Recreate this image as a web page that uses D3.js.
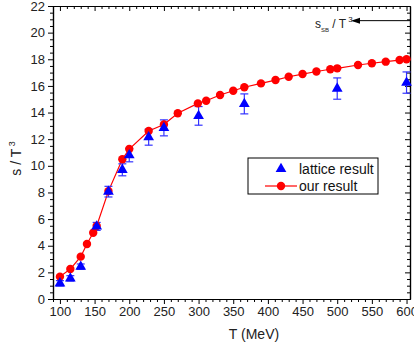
<!DOCTYPE html>
<meta charset="utf-8">
<style>
  body { margin: 0; background: #fff; }
  text { font-family: "Liberation Sans", Arial, sans-serif; }
</style>
<body>
<div id="chart"></div>
<script src="https://d3js.org/d3.v7.min.js"></script>
<script>

// our result (red line)
var ourT = [100, 115, 130, 139, 148, 153, 170, 190, 200, 228, 250, 270, 299, 311, 331, 350, 366, 390, 411, 430, 450, 470, 490, 500, 530, 550, 570, 590, 600];
var ourS = [1.68, 2.25, 3.18, 4.13, 4.98, 5.48, 8.1, 10.49, 11.26, 12.61, 13.1, 13.95, 14.69, 14.89, 15.32, 15.64, 15.9, 16.19, 16.44, 16.69, 16.89, 17.08, 17.25, 17.32, 17.57, 17.7, 17.82, 17.94, 18.0];

// lattice result (blue triangles with error bars)
var latT = [100, 115, 130, 153, 170, 190, 200, 228, 250, 300, 366, 500, 600];
var latS = [1.18, 1.55, 2.43, 5.45, 8.06, 9.7, 10.8, 12.15, 12.85, 13.75, 14.65, 15.8, 16.25];
var latErr = [0.2, 0.2, 0.2, 0.3, 0.4, 0.45, 0.5, 0.6, 0.6, 0.7, 0.75, 0.8, 0.8];

var xTicks = [100, 150, 200, 250, 300, 350, 400, 450, 500, 550, 600];
var yTicks = [0, 2, 4, 6, 8, 10, 12, 14, 16, 18, 20, 22];
var sbLevel = 20.9;

var margin = {top: 6, right: 4, bottom: 48, left: 53},
    width = 414 - margin.left - margin.right,
    height = 347 - margin.top - margin.bottom;

var svg = d3.select("#chart")
  .append("svg")
    .attr("width", 414)
    .attr("height", 347)
  .append("g")
    .attr("transform", "translate(" + margin.left + "," + margin.top + ")");

var x = d3.scaleLinear().domain([90, 605]).range([0, width]);
var y = d3.scaleLinear().domain([0, 22]).range([height, 0]);

var minorX = d3.range(90, 606, 10).filter(function(d) { return d % 50 != 0; });
var minorY = d3.range(0, 22.01, 0.5).filter(function(d) { return d % 2 != 0; });

function styleAxis(g) {
  g.selectAll("path").attr("stroke", "#000").attr("stroke-width", 1.2);
  g.selectAll("line").attr("stroke", "#000");
  g.selectAll("text").attr("font-size", 13).attr("fill", "#222");
}

// bottom axis
svg.append("g")
  .attr("transform", "translate(0," + height + ")")
  .call(d3.axisBottom(x).tickValues(minorX).tickSize(3).tickFormat("").tickSizeOuter(0))
  .call(styleAxis);
svg.append("g")
  .attr("transform", "translate(0," + height + ")")
  .call(d3.axisBottom(x).tickValues(xTicks).tickSize(5).tickPadding(3).tickSizeOuter(0))
  .call(styleAxis);

// top axis (ticks inward)
svg.append("g")
  .call(d3.axisTop(x).tickValues(minorX).tickSize(-3).tickFormat("").tickSizeOuter(0))
  .call(styleAxis);
svg.append("g")
  .call(d3.axisTop(x).tickValues(xTicks).tickSize(-5).tickFormat("").tickSizeOuter(0))
  .call(styleAxis);

// left axis
svg.append("g")
  .call(d3.axisLeft(y).tickValues(minorY).tickSize(3).tickFormat("").tickSizeOuter(0))
  .call(styleAxis);
svg.append("g")
  .call(d3.axisLeft(y).tickValues(yTicks).tickSize(5).tickPadding(3).tickSizeOuter(0))
  .call(styleAxis);

// right axis (ticks inward)
svg.append("g")
  .attr("transform", "translate(" + width + ",0)")
  .call(d3.axisRight(y).tickValues(minorY).tickSize(-3).tickFormat("").tickSizeOuter(0))
  .call(styleAxis);
svg.append("g")
  .attr("transform", "translate(" + width + ",0)")
  .call(d3.axisRight(y).tickValues(yTicks).tickSize(-5).tickFormat("").tickSizeOuter(0))
  .call(styleAxis);

// axis titles
svg.append("text")
  .attr("x", x(380))
  .attr("y", height + 40)
  .attr("text-anchor", "middle")
  .attr("font-size", 14)
  .attr("fill", "#222")
  .text("T (MeV)");

var yl = svg.append("text")
  .attr("transform", "translate(-32," + (height / 2 + 6) + ")rotate(-90)")
  .attr("text-anchor", "middle")
  .attr("font-size", 14)
  .attr("fill", "#222");
yl.append("tspan").text("s / T");
yl.append("tspan").attr("dy", -6).attr("font-size", 9).text(" 3");

// data
var our = ourT.map(function(t, i) { return {t: t, s: ourS[i]}; });
var lat = latT.map(function(t, i) { return {t: t, s: latS[i], e: latErr[i]}; });

// red line
svg.append("path")
  .datum(our)
  .attr("fill", "none")
  .attr("stroke", "#ff0000")
  .attr("stroke-width", 1.2)
  .attr("d", d3.line().x(function(d) { return x(d.t); }).y(function(d) { return y(d.s); }));

// error bars
var eb = svg.selectAll(".err").data(lat).enter().append("g").attr("class", "err")
  .attr("stroke", "#3333ff").attr("stroke-width", 1.2);
eb.append("line")
  .attr("x1", function(d) { return x(d.t); }).attr("x2", function(d) { return x(d.t); })
  .attr("y1", function(d) { return y(d.s - d.e); }).attr("y2", function(d) { return y(d.s + d.e); });
eb.append("line")
  .attr("x1", function(d) { return x(d.t) - 4; }).attr("x2", function(d) { return x(d.t) + 4; })
  .attr("y1", function(d) { return y(d.s - d.e); }).attr("y2", function(d) { return y(d.s - d.e); });
eb.append("line")
  .attr("x1", function(d) { return x(d.t) - 4; }).attr("x2", function(d) { return x(d.t) + 4; })
  .attr("y1", function(d) { return y(d.s + d.e); }).attr("y2", function(d) { return y(d.s + d.e); });

// red circles
svg.selectAll(".ourpt").data(our).enter().append("circle")
  .attr("class", "ourpt")
  .attr("cx", function(d) { return x(d.t); })
  .attr("cy", function(d) { return y(d.s); })
  .attr("r", 4.2)
  .attr("fill", "#ff0000");

// blue triangles
var tri = d3.symbol().type(d3.symbolTriangle).size(50);
svg.selectAll(".latpt").data(lat).enter().append("path")
  .attr("class", "latpt")
  .attr("d", tri)
  .attr("transform", function(d) { return "translate(" + x(d.t) + "," + y(d.s) + ")"; })
  .attr("fill", "#0000ff");

// legend
var lg = svg.append("g").attr("transform", "translate(" + (248 - margin.left) + "," + (158 - margin.top) + ")");
lg.append("rect")
  .attr("width", 130).attr("height", 36)
  .attr("fill", "#fff").attr("stroke", "#000").attr("stroke-width", 1);
lg.append("path").attr("d", tri).attr("transform", "translate(33,11)").attr("fill", "#0000ff");
lg.append("text").attr("x", 51).attr("y", 16).attr("font-size", 14).attr("fill", "#111").text("lattice result");
lg.append("line").attr("x1", 17).attr("x2", 49).attr("y1", 28).attr("y2", 28)
  .attr("stroke", "#ff0000").attr("stroke-width", 1.2);
lg.append("circle").attr("cx", 33).attr("cy", 28).attr("r", 4.2).attr("fill", "#ff0000");
lg.append("text").attr("x", 51).attr("y", 33).attr("font-size", 14).attr("fill", "#111").text("our result");

// Stefan-Boltzmann limit annotation
var ay = y(sbLevel);
svg.append("line")
  .attr("x1", 300).attr("x2", width)
  .attr("y1", ay).attr("y2", ay)
  .attr("stroke", "#000").attr("stroke-width", 1);
svg.append("path")
  .attr("d", "M" + 298 + "," + ay + "l9,-3l0,6z")
  .attr("fill", "#000");
var sb = svg.append("text")
  .attr("x", 262)
  .attr("y", ay + 7)
  .attr("font-size", 12)
  .attr("fill", "#222");
sb.append("tspan").text("s");
sb.append("tspan").attr("dy", 4).attr("font-size", 6).text("SB");
sb.append("tspan").attr("dy", -4).text(" / T");
sb.append("tspan").attr("dy", -6).attr("font-size", 8).text(" 3");

</script>
</body>
